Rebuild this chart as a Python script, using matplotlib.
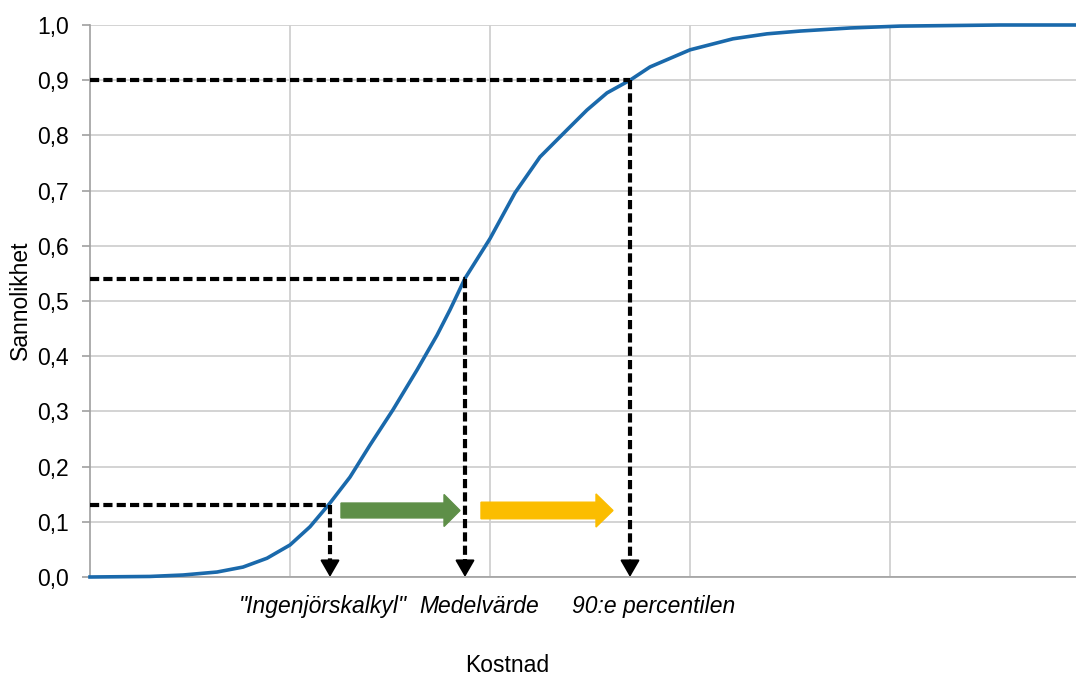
import matplotlib
matplotlib.use("Agg")
import matplotlib.pyplot as plt
from matplotlib.patches import FancyArrow

plt.rcParams['font.family'] = ['Liberation Sans', 'DejaVu Sans']

# CDF of cost (x in arbitrary cost units, one grid step = 1)
cost = [0, 0.30, 0.465, 0.635, 0.765, 0.885, 1.0, 1.1, 1.2, 1.3, 1.4, 1.515,
        1.635, 1.735, 1.8, 1.875, 2.0, 2.125, 2.25, 2.385, 2.485, 2.585, 2.7,
        2.8, 3.0, 3.215, 3.385, 3.55, 3.8, 4.05, 4.3, 4.55, 4.93]
prob = [0, 0.001, 0.0036, 0.009, 0.018, 0.034, 0.058, 0.091, 0.134, 0.181,
        0.239, 0.303, 0.375, 0.438, 0.484, 0.541, 0.613, 0.696, 0.761, 0.810,
        0.846, 0.877, 0.900, 0.924, 0.955, 0.975, 0.984, 0.989, 0.9946, 0.998,
        0.999, 1.0, 1.0]

# marked points
mark_x = [1.2, 1.875, 2.7]
mark_y = [0.13, 0.54, 0.90]
mark_labels = ['"Ingenjörskalkyl"', 'Medelvärde', '90:e percentilen']
label_x = [1.165, 1.945, 2.82]

yticks = [i / 10 for i in range(11)]
ytick_labels = [f"{v:.1f}".replace('.', ',') for v in yticks]
xgrid = [1, 2, 3, 4]

FS = 16.5

fig = plt.figure(figsize=(10.76, 6.75), dpi=100)
ax = fig.add_axes([90 / 1076, 98 / 675, 986 / 1076, 552 / 675])
ax.set_xlim(0, 4.93)
ax.set_ylim(0, 1.0)

ax.set_yticks(yticks)
ax.set_yticklabels(ytick_labels, fontsize=FS)
ax.set_xticks(xgrid)
ax.set_xticklabels([])
ax.tick_params(axis='x', length=0)
ax.tick_params(axis='y', length=6, width=1.2, color='#a0a0a0', pad=9)
ax.grid(True, color='#d0d0d0', linewidth=1.3)
ax.set_axisbelow(True)
for s in ['top', 'right']:
    ax.spines[s].set_visible(False)
for s in ['left', 'bottom']:
    ax.spines[s].set_color('#a0a0a0')
    ax.spines[s].set_linewidth(1.2)

ax.plot(cost, prob, color='#1a69ab', linewidth=2.6, zorder=3, clip_on=False,
        solid_joinstyle='round')

dash = (0, (2.2, 1.0))
for mx, my in zip(mark_x, mark_y):
    ax.plot([0, mx], [my, my], color='black', linewidth=3.0, linestyle=dash, zorder=4)
    ax.plot([mx, mx], [my, 0.025], color='black', linewidth=3.0, linestyle=dash, zorder=4)
    ax.annotate('', xy=(mx, 0.0), xytext=(mx, 0.03),
                arrowprops=dict(arrowstyle='-|>,head_length=0.52,head_width=0.3',
                                color='black', lw=1.5, shrinkA=0, shrinkB=0,
                                mutation_scale=20), zorder=5, annotation_clip=False)

# block arrows
ax.add_patch(FancyArrow(1.255, 0.1205, 0.595, 0, width=0.027, head_width=0.058,
                        head_length=0.08, length_includes_head=True,
                        color='#5e8f48', zorder=4))
ax.add_patch(FancyArrow(1.955, 0.1205, 0.66, 0, width=0.03, head_width=0.06,
                        head_length=0.085, length_includes_head=True,
                        color='#fbbd00', zorder=4))

for lx, lab in zip(label_x, mark_labels):
    ax.text(lx, -0.054, lab, ha='center', va='center', fontsize=FS,
            style='italic', transform=ax.transData)

fig.text(507 / 1076, 1 - 665 / 675, 'Kostnad', ha='center', va='center', fontsize=FS)
fig.text(20 / 1076, 1 - 300 / 675, 'Sannolikhet', ha='center', va='center',
         fontsize=FS, rotation=90)

fig.savefig('out.png', dpi=100)
